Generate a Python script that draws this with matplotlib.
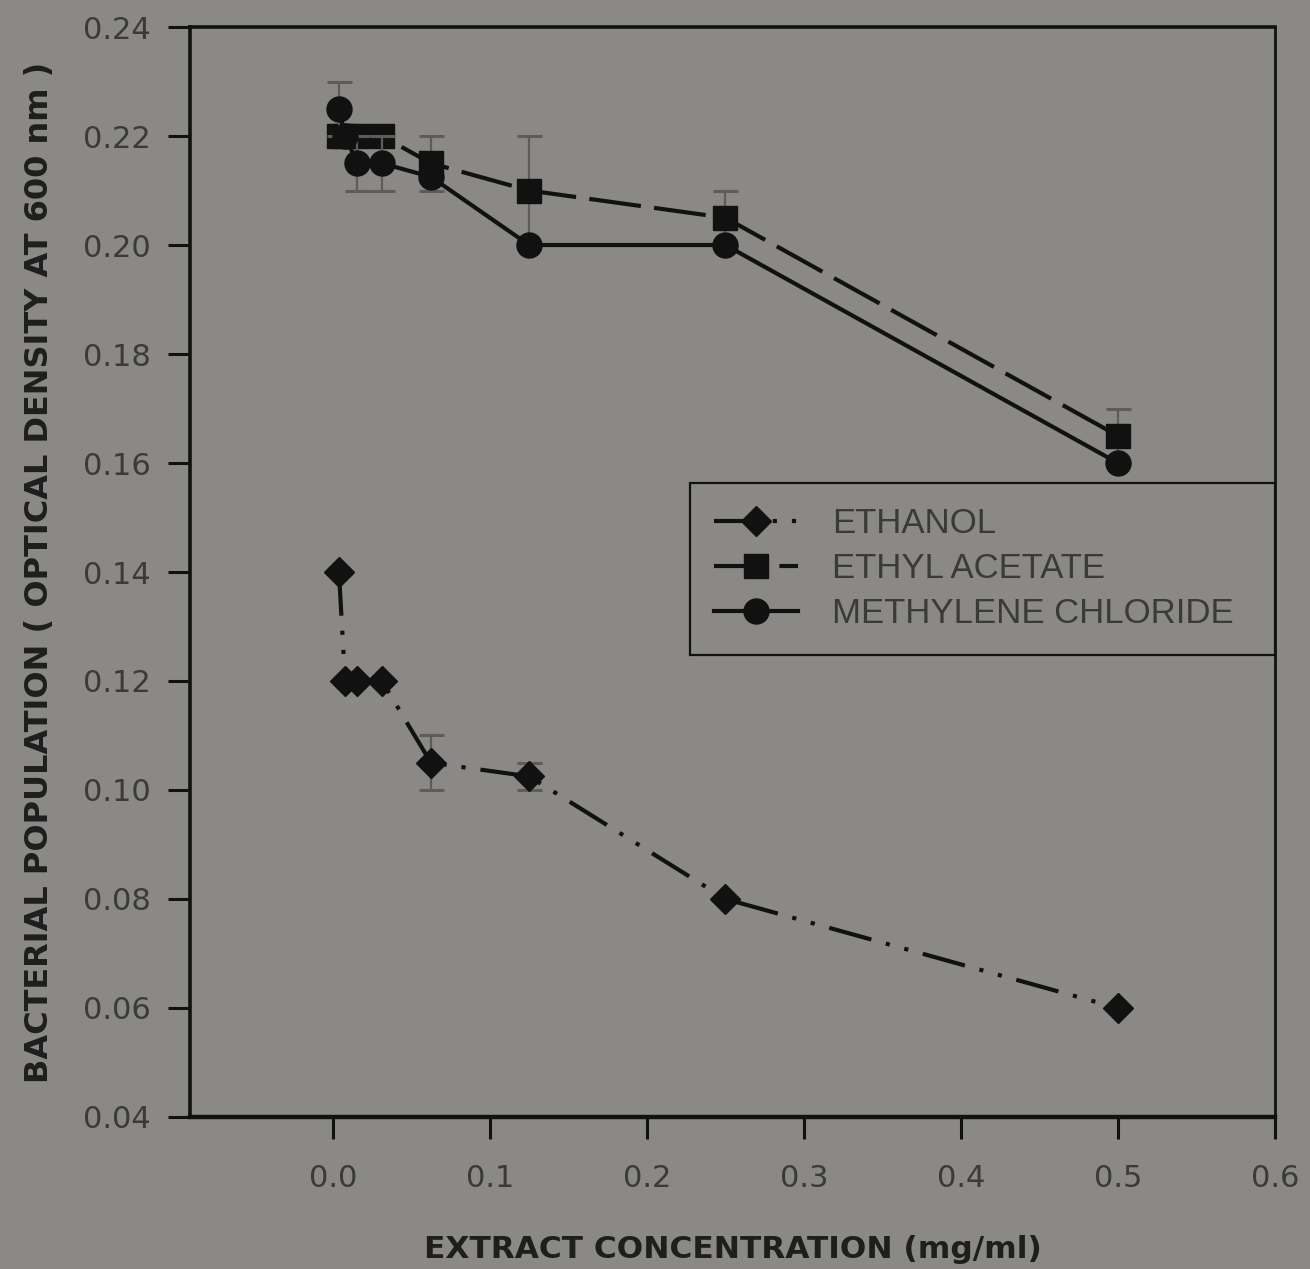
import matplotlib
matplotlib.use("Agg")
import matplotlib.pyplot as plt

# extract concentrations (two-fold dilutions), mg/ml
conc = [0.0039, 0.0078, 0.0156, 0.03125, 0.0625, 0.125, 0.25, 0.5]

ethanol = [0.140, 0.120, 0.120, 0.120, 0.105, 0.1025, 0.080, 0.060]
ethanol_err = [0, 0, 0, 0, 0.005, 0.0025, 0, 0]

ethyl_acetate = [0.220, 0.220, 0.220, 0.220, 0.215, 0.210, 0.205, 0.165]
ethyl_acetate_err = [0, 0, 0, 0, 0.005, 0.010, 0.005, 0.005]

methylene = [0.225, 0.220, 0.215, 0.215, 0.2125, 0.200, 0.200, 0.160]
methylene_err = [0.005, 0, 0.005, 0.005, 0, 0, 0, 0]

labels = ["ETHANOL", "ETHYL ACETATE", "METHYLENE CHLORIDE"]
x_ticks = [0.0, 0.1, 0.2, 0.3, 0.4, 0.5, 0.6]
y_ticks = [0.04, 0.06, 0.08, 0.10, 0.12, 0.14, 0.16, 0.18, 0.20, 0.22, 0.24]

BG = "#8b8985"
INK = "#111111"

fig = plt.figure(figsize=(13.1, 12.69), dpi=100)
fig.patch.set_facecolor(BG)
ax = fig.add_axes([0.1450, 0.1198, 0.8282, 0.8589])
ax.set_facecolor(BG)


def _series(y, err, marker, ms, ls, z):
    line, = ax.plot(conc, y, color=INK, lw=3, ls=ls, marker=marker, ms=ms,
                    markerfacecolor=INK, markeredgecolor=INK, zorder=z)
    xs = [c for c, e in zip(conc, err) if e > 0]
    ys = [v for v, e in zip(y, err) if e > 0]
    es = [e for e in err if e > 0]
    eb = ax.errorbar(xs, ys, yerr=es, fmt="none", ecolor="#5e5c59", elinewidth=1.6,
                     capsize=9, capthick=2.2, zorder=z - 1)
    for cap in eb[1]:
        cap.set_color("#1a1a1a")
    return line


h_eth = _series(ethanol, ethanol_err, "D", 15.5, (0, (10.5, 3.6, 1, 3.6, 1, 3.6)), 4)
h_ea = _series(ethyl_acetate, ethyl_acetate_err, "s", 17, (0, (12.5, 3.2)), 5)
h_mc = _series(methylene, methylene_err, "o", 18, "-", 6)

ax.set_xlim(-0.091, 0.6)
ax.set_ylim(0.04, 0.24)
ax.set_xticks(x_ticks)
ax.set_xticklabels([f"{v:.1f}" for v in x_ticks])
ax.set_yticks(y_ticks)
ax.set_yticklabels([f"{v:.2f}" for v in y_ticks])
ax.tick_params(axis="both", direction="out", length=16, width=2.2, color=INK,
               labelsize=22, labelcolor="#3a3a3a")
ax.tick_params(axis="y", pad=12)
ax.tick_params(axis="x", pad=18)
for lab in ax.get_xticklabels() + ax.get_yticklabels():
    lab.set_family("DejaVu Sans")

for side, w in {"left": 2.6, "bottom": 3.2, "top": 2.6, "right": 2.0}.items():
    ax.spines[side].set_linewidth(w)
    ax.spines[side].set_color(INK)

ax.set_xlabel("EXTRACT CONCENTRATION (mg/ml)", fontsize=22.5, fontweight="bold",
              family="DejaVu Sans", color="#1e1e1e", labelpad=30)
ax.set_ylabel("BACTERIAL POPULATION ( OPTICAL DENSITY AT 600 nm )", fontsize=23,
              fontweight="bold", family="DejaVu Sans", color="#1e1e1e", labelpad=20)

leg = ax.legend([h_eth, h_ea, h_mc], labels, loc="upper left",
                bbox_to_anchor=(0.461, 0.424, 0.539, 0.158), mode="expand",
                borderaxespad=0, borderpad=0.7, labelspacing=0.35,
                handlelength=2.4, handletextpad=1.0,
                prop={"family": "Liberation Sans", "size": 25},
                frameon=True, fancybox=False, facecolor=BG, edgecolor=INK,
                framealpha=1)
leg.get_frame().set_linewidth(1.6)
for t in leg.get_texts():
    t.set_color("#3a3a3a")

fig.savefig("out.png", dpi=100, facecolor=fig.get_facecolor())
